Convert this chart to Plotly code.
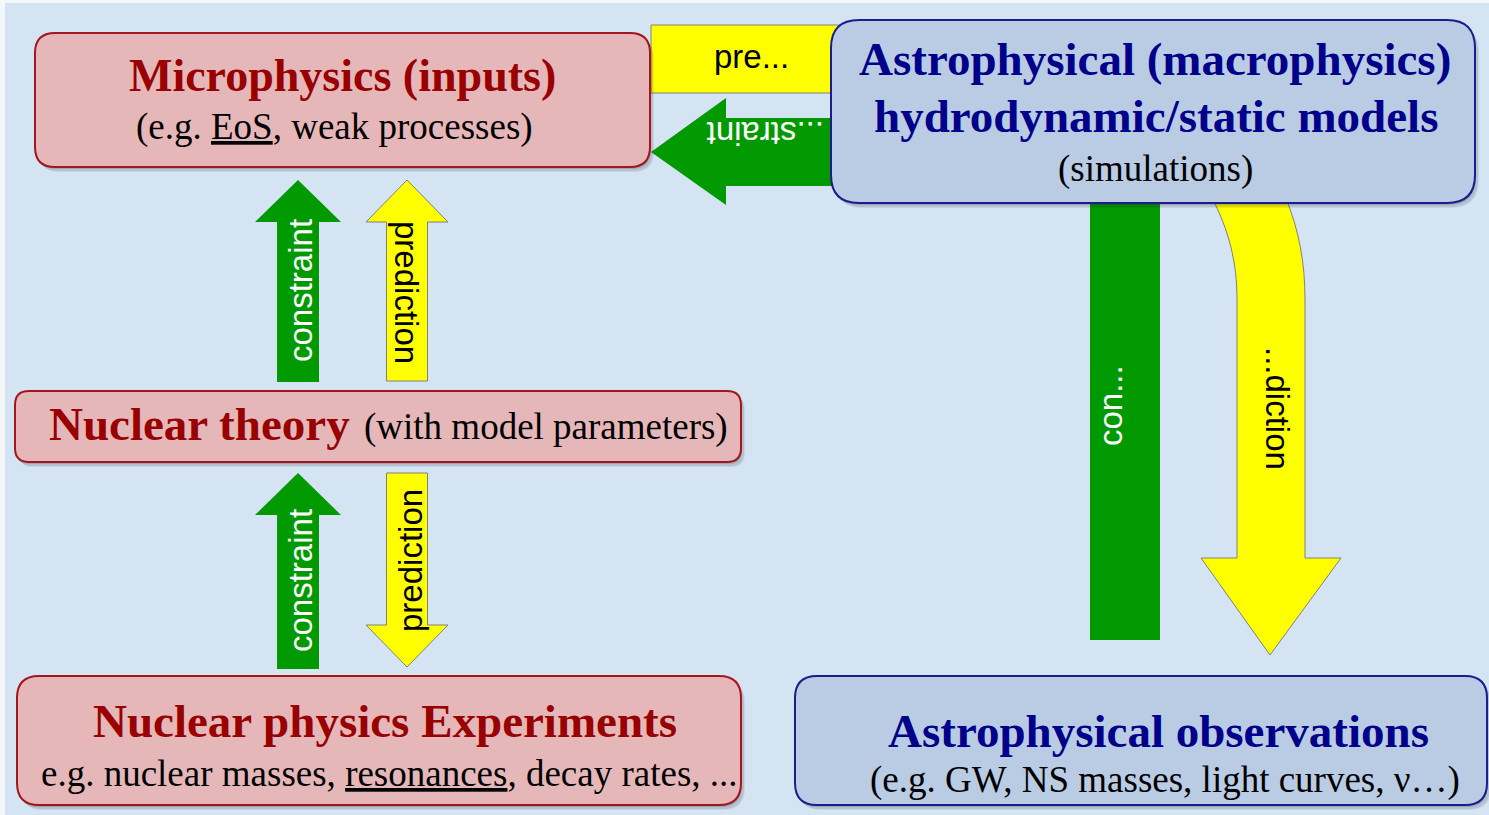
import plotly.graph_objects as go

# labels of the diagram
box_titles = ["Microphysics (inputs)", "Nuclear theory", "Nuclear physics Experiments",
              "Astrophysical observations"]
box_subtitles = ["(e.g. <u>EoS</u>, weak processes)", "(with model parameters)",
                 "e.g. nuclear masses, <u>resonances</u>, decay rates, ...",
                 "(e.g. GW, NS masses, light curves, ν…)"]
astro_lines = ["Astrophysical (macrophysics)", "hydrodynamic/static models", "(simulations)"]
arrow_labels = ["constraint", "prediction", "constraint", "prediction",
                "pre...", "...straint", "con...", "...diction"]

W, H = 1489, 815
RED_FILL, RED_LINE, RED_TXT = "#e6b7b8", "#a3161c", "#990000"
BLUE_FILL, BLUE_LINE, BLUE_TXT = "#b9cce4", "#1c1c8c", "#00008b"
GREEN, YELLOW, GREY = "#009a00", "#ffff00", "#808080"
SERIF = "Liberation Serif"
SANS = "Liberation Sans"


def rrect(x0, y0, x1, y1, r):
    return (f"M {x0+r} {y0} L {x1-r} {y0} Q {x1} {y0} {x1} {y0+r} "
            f"L {x1} {y1-r} Q {x1} {y1} {x1-r} {y1} L {x0+r} {y1} "
            f"Q {x0} {y1} {x0} {y1-r} L {x0} {y0+r} Q {x0} {y0} {x0+r} {y0} Z")


def varrow(cx, sw, hw, tail, base, tip):
    pts = [(cx - sw/2, tail), (cx - sw/2, base), (cx - hw/2, base), (cx, tip),
           (cx + hw/2, base), (cx + sw/2, base), (cx + sw/2, tail)]
    return "M " + " L ".join(f"{x} {y}" for x, y in pts) + " Z"


shapes = []


def add_path(path, fill, line_color=None, line_width=0):
    shapes.append(dict(type="path", path=path, xref="x", yref="y", fillcolor=fill,
                       line=dict(color=line_color or fill, width=line_width)))


# background
shapes.append(dict(type="rect", xref="x", yref="y", x0=5, y0=3, x1=W, y1=H,
                   fillcolor="#d4e4f3", line=dict(width=0), layer="below"))

# arrows (drawn before the boxes so the boxes cover their ends)
add_path("M 651 25 L 845 25 L 845 93 L 651 93 Z", YELLOW, GREY, 1)
add_path("M 845 118 L 726 118 L 726 98 L 651 152 L 726 205 L 726 186 L 845 186 Z", GREEN)
add_path(varrow(298, 42, 86, 382, 222, 180), GREEN)
add_path(varrow(407, 41, 82, 381, 222, 180), YELLOW, GREY, 1)
add_path(varrow(298, 42, 86, 669, 515, 473), GREEN)
add_path(varrow(407, 41, 82, 473, 625, 667), YELLOW, GREY, 1)
add_path("M 1090 195 L 1160 195 L 1160 640 L 1090 640 Z", GREEN)
add_path("M 1211 196 C 1229 230, 1237 262, 1237 300 L 1237 558 L 1201 558 "
         "L 1270 655 L 1341 558 L 1305 558 L 1305 300 C 1305 262, 1299 230, 1285 196 Z",
         YELLOW, GREY, 1)

# boxes
boxes = [
    (35, 33, 650, 167, 20, RED_FILL, RED_LINE),
    (15, 391, 741, 462, 14, RED_FILL, RED_LINE),
    (17, 676, 741, 805, 22, RED_FILL, RED_LINE),
    (795, 676, 1487, 805, 22, BLUE_FILL, BLUE_LINE),
    (831, 20, 1475, 203, 28, BLUE_FILL, BLUE_LINE),
]
for x0, y0, x1, y1, r, fc, lc in boxes:
    for d, a in [(5, 0.08), (4, 0.12), (2, 0.18)]:
        add_path(rrect(x0 + d - 1, y0 + d, x1 + d - 1, y1 + d, r), f"rgba(40,40,60,{a})")
    add_path(rrect(x0, y0, x1, y1, r), fc, lc, 2)

ann = []


def text(x, y, s, size, color, family=SERIF, bold=False, angle=0, xanchor="center"):
    ann.append(dict(x=x, y=y, xref="x", yref="y", text=f"<b>{s}</b>" if bold else s,
                    showarrow=False, textangle=angle, xanchor=xanchor, yanchor="middle",
                    font=dict(family=family, size=size, color=color)))


# box texts
text(342, 75, box_titles[0], 46, RED_TXT, bold=True)
text(334, 127, box_subtitles[0], 37, "black")
text(47, 424, box_titles[1], 47, RED_TXT, bold=True, xanchor="left")
text(362, 427, box_subtitles[1], 37, "black", xanchor="left")
text(385, 721, box_titles[2], 47, RED_TXT, bold=True)
text(389, 773, box_subtitles[2], 37, "black")
text(1158, 731, box_titles[3], 47, BLUE_TXT, bold=True)
text(1165, 780, box_subtitles[3], 37, "black")
text(1155, 59, astro_lines[0], 47, BLUE_TXT, bold=True)
text(1156, 116, astro_lines[1], 47, BLUE_TXT, bold=True)
text(1155, 169, astro_lines[2], 37, "black")

# arrow labels
text(300, 291, arrow_labels[0], 33, "white", SANS, angle=-90)
text(407, 292, arrow_labels[1], 33, "black", SANS, angle=90)
text(300, 581, arrow_labels[2], 33, "white", SANS, angle=-90)
text(410, 561, arrow_labels[3], 33, "black", SANS, angle=-90)
text(751, 56, arrow_labels[4], 33, "black", SANS)
text(766, 134, arrow_labels[5], 33, "white", SANS, angle=180)
text(1110, 406, arrow_labels[6], 33, "white", SANS, angle=-90)
text(1278, 408, arrow_labels[7], 33, "black", SANS, angle=90)

fig = go.Figure(go.Scatter(x=[0, W], y=[0, H], mode="markers",
                           marker=dict(opacity=0), hoverinfo="skip", showlegend=False))
fig.update_layout(
    width=W, height=H, margin=dict(l=0, r=0, t=0, b=0),
    paper_bgcolor="#f4f8fb", plot_bgcolor="#f4f8fb",
    xaxis=dict(range=[0, W], visible=False, fixedrange=True),
    yaxis=dict(range=[H, 0], visible=False, fixedrange=True),
    shapes=shapes, annotations=ann, showlegend=False,
)
fig.write_html("out.html", config={"displayModeBar": False},
               post_script="document.body.style.margin='0';document.body.style.overflow='hidden';")
